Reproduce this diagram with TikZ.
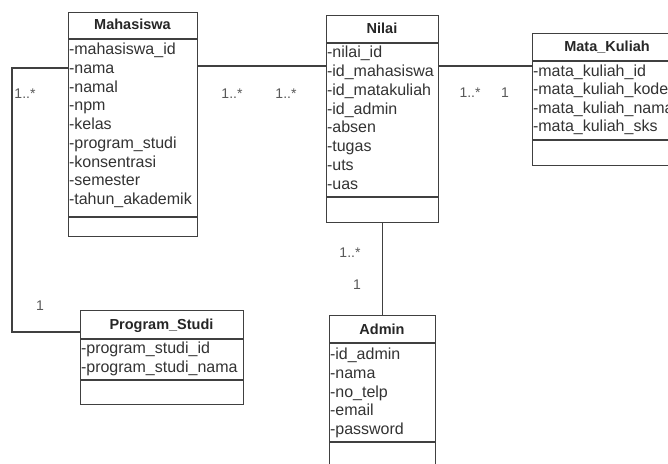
\documentclass[tikz,border=0pt]{standalone}
\usepackage{fontspec}
\setmainfont{Liberation Sans}
\begin{document}
\begin{tikzpicture}[x=1pt,y=-1pt,
  line width=1.1pt,
  ink/.style={draw=black!75},
  classbox/.style={ink, rectangle, inner sep=0pt, anchor=north west},
  ctitle/.style={font=\fontsize{14.5}{18}\selectfont\bfseries, text=black!85, inner sep=0pt, anchor=base},
  attr/.style={font=\fontsize{16}{18}\selectfont, text=black!80, inner sep=0pt, anchor=base west},
  mult/.style={font=\fontsize{14}{16}\selectfont, text=black!65, inner sep=0pt, anchor=base}]
\useasboundingbox[fill=white] (0,0) rectangle (668,463);

% Mahasiswa
\node[classbox, minimum width=129pt, minimum height=224pt] (mhs) at (68,12) {};
\draw[ink] (68,39) -- (197,39) (68,217) -- (197,217);
\node[ctitle] (mhst) at (132.5,29.5) {Mahasiswa};
\foreach \t [count=\i from 0] in {-mahasiswa\_id,-nama,-namal,-npm,-kelas,-program\_studi,-konsentrasi,-semester,-tahun\_akademik}
  \node[attr] (mhs-a\i) at (68.5,54.5+18.75*\i) {\t};

% Nilai
\node[classbox, minimum width=112pt, minimum height=207pt] (nilai) at (326,15) {};
\draw[ink] (326,43) -- (438,43) (326,197) -- (438,197);
\node[ctitle] (nilait) at (382,33.5) {Nilai};
\foreach \t [count=\i from 0] in {-nilai\_id,-id\_mahasiswa,-id\_matakuliah,-id\_admin,-absen,-tugas,-uts,-uas}
  \node[attr] (nilai-a\i) at (326.5,57.5+18.86*\i) {\t};

% Mata_Kuliah
\node[classbox, minimum width=160pt, minimum height=132pt] (mk) at (532,33) {};
\draw[ink] (532,61) -- (692,61) (532,140) -- (692,140);
\node[ctitle] (mkt) at (607,51.5) {Mata\_Kuliah};
\foreach \t [count=\i from 0] in {-mata\_kuliah\_id,-mata\_kuliah\_kode,-mata\_kuliah\_nama,-mata\_kuliah\_sks}
  \node[attr] (mk-a\i) at (532.5,76.5+18.4*\i) {\t};

% Program_Studi
\node[classbox, minimum width=163pt, minimum height=94pt] (ps) at (80,310) {};
\draw[ink] (80,339) -- (243,339) (80,380) -- (243,380);
\node[ctitle] (pst) at (161.5,329.5) {Program\_Studi};
\foreach \t [count=\i from 0] in {-program\_studi\_id,-program\_studi\_nama}
  \node[attr] (ps-a\i) at (80.5,353.5+19*\i) {\t};

% Admin
\node[classbox, minimum width=106pt, minimum height=165pt] (admin) at (329,315) {};
\draw[ink] (329,343) -- (435,343) (329,442) -- (435,442);
\node[ctitle] (admint) at (382,334.5) {Admin};
\foreach \t [count=\i from 0] in {-id\_admin,-nama,-no\_telp,-email,-password}
  \node[attr] (admin-a\i) at (329.5,359.5+18.75*\i) {\t};

% connectors
\draw[ink] (mhs.east |- 0,66) -- (nilai.west |- 0,66);
\draw[ink] (nilai.east |- 0,66) -- (mk.west |- 0,66);
\draw[ink] (mhs.west |- 0,68) -- (12,68) |- (ps.west |- 0,332);
\draw[ink] (nilai.south) -- (admin.north);

% multiplicities
\node[mult] (m1) at (25,98) {1..*};
\node[mult] (m2) at (232,98) {1..*};
\node[mult] (m3) at (286,98) {1..*};
\node[mult] (m4) at (470,97) {1..*};
\node[mult] (m5) at (505,97) {1};
\node[mult] (m6) at (350,257) {1..*};
\node[mult] (m7) at (357,289) {1};
\node[mult] (m8) at (40,310) {1};
\end{tikzpicture}
\end{document}
